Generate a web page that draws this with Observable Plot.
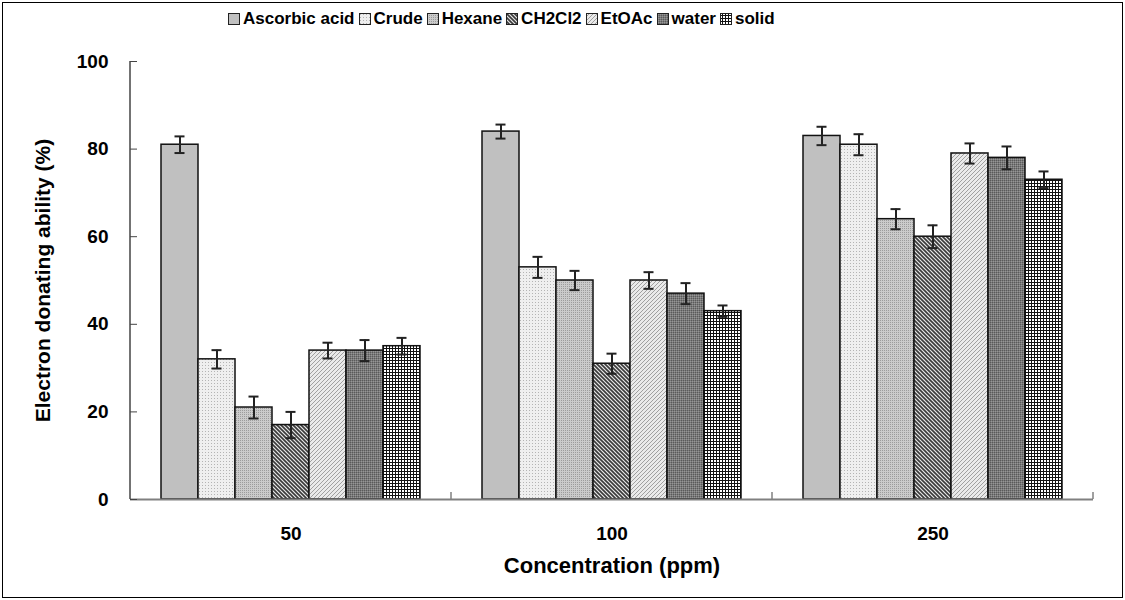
<!DOCTYPE html>
<html><head><meta charset="utf-8">
<script src="https://cdn.jsdelivr.net/npm/d3@7"></script>
<script src="https://cdn.jsdelivr.net/npm/@observablehq/plot@0.6"></script>
<style>
body{margin:0;background:#fff;}
#wrap{position:relative;width:1125px;height:600px;font-family:"Liberation Sans",Arial,sans-serif;font-weight:bold;color:#000;}
#frame{position:absolute;left:2px;top:2px;width:1119px;height:594px;border:1px solid #000;}
#legend{position:absolute;left:228px;top:9px;display:flex;align-items:center;font-size:17px;line-height:20px;white-space:nowrap;}
.item{display:flex;align-items:center;margin-right:4px;}
.item svg{margin-right:3px;display:block;}
#chart{position:absolute;left:0;top:40px;}
#chart g[aria-label="fx-axis label"]{font-size:22px;}
#chart g[aria-label="y-axis label"]{font-size:21px;}
</style></head><body>
<svg width="0" height="0" style="position:absolute">
<defs>
<pattern id="pAsc" patternUnits="userSpaceOnUse" width="4" height="4"><rect width="4" height="4" fill="#c0c0c0"/></pattern>
<pattern id="pCrude" patternUnits="userSpaceOnUse" width="3" height="3"><rect width="3" height="3" fill="#efefef"/><rect x="1" y="1" width="1" height="1" fill="#b4b4b4"/></pattern>
<pattern id="pHex" patternUnits="userSpaceOnUse" width="2" height="2"><rect width="2" height="2" fill="#cbcbcb"/><rect width="1" height="1" fill="#9c9c9c"/></pattern>
<pattern id="pCH" patternUnits="userSpaceOnUse" width="4" height="4"><rect width="4" height="4" fill="#e6e6e6"/><path d="M0,0L4,4M-1,3L1,5M3,-1L5,1" stroke="#3a3a3a" stroke-width="1.6"/></pattern>
<pattern id="pEt" patternUnits="userSpaceOnUse" width="4" height="4"><rect width="4" height="4" fill="#eaeaea"/><path d="M0,4L4,0M-1,1L1,-1M3,5L5,3" stroke="#a0a0a0" stroke-width="1"/></pattern>
<pattern id="pWater" patternUnits="userSpaceOnUse" width="2" height="2"><rect width="2" height="2" fill="#7a7a7a"/><rect width="1" height="1" fill="#5a5a5a"/><rect x="1" y="1" width="1" height="1" fill="#969696"/></pattern>
<pattern id="pSolid" patternUnits="userSpaceOnUse" width="3" height="3"><rect width="3" height="3" fill="#111"/><rect width="2" height="2" fill="#fff"/></pattern>
</defs></svg>
<div id="wrap"><div id="frame"></div><div id="legend"></div><div id="chart"></div></div>
<script>
const series = ["Ascorbic acid", "Crude", "Hexane", "CH2Cl2", "EtOAc", "water", "solid"];
const concentrations = ["50", "100", "250"];
const values50  = [81, 32, 21, 17, 34, 34, 35];
const values100 = [84, 53, 50, 31, 50, 47, 43];
const values250 = [83, 81, 64, 60, 79, 78, 73];
const errors50  = [1.9, 2.1, 2.5, 3.0, 1.8, 2.4, 1.9];
const errors100 = [1.6, 2.4, 2.2, 2.3, 1.9, 2.4, 1.3];
const errors250 = [2.1, 2.4, 2.3, 2.6, 2.3, 2.6, 1.9];
const yTicks = [0, 20, 40, 60, 80, 100];
const patternIds = ["pAsc", "pCrude", "pHex", "pCH", "pEt", "pWater", "pSolid"];

const valueSets = [values50, values100, values250];
const errorSets = [errors50, errors100, errors250];
const table = [];
concentrations.forEach((c, gi) => series.forEach((s, si) => {
  table.push({conc: c, series: s, value: valueSets[gi][si], err: errorSets[gi][si]});
}));

// legend
const legend = document.getElementById("legend");
series.forEach((s, i) => {
  const item = document.createElement("div");
  item.className = "item";
  item.innerHTML = `<svg width="12" height="12"><rect x="0.5" y="0.5" width="11" height="11" fill="url(#${patternIds[i]})" stroke="#222" stroke-width="1"/></svg><span>${s}</span>`;
  legend.appendChild(item);
});

const font = '"Liberation Sans", Arial, sans-serif';
const chart = Plot.plot({
  width: 1125, height: 560,
  marginTop: 21, marginBottom: 101, marginLeft: 130, marginRight: 32,
  style: {fontFamily: font, fontWeight: "bold", background: "transparent", overflow: "visible", color: "#000"},
  fx: {domain: concentrations, padding: 0},
  x: {domain: series, paddingInner: 0, paddingOuter: 0.724, axis: null},
  y: {domain: [0, 100]},
  color: {domain: series, range: patternIds.map(id => `url(#${id})`)},
  marks: [
    Plot.barY(table, {fx: "conc", x: "series", y: "value", fill: "series", stroke: "#111", strokeWidth: 1.5}),
    Plot.ruleX(table, {fx: "conc", x: "series", y1: d => d.value - d.err, y2: d => d.value + d.err, stroke: "#222", strokeWidth: 2}),
    Plot.tickY(table, {fx: "conc", x: "series", y: d => d.value + d.err, insetLeft: 13.5, insetRight: 13.5, stroke: "#222", strokeWidth: 2}),
    Plot.tickY(table, {fx: "conc", x: "series", y: d => d.value - d.err, insetLeft: 13.5, insetRight: 13.5, stroke: "#222", strokeWidth: 2}),
    Plot.ruleY([0], {stroke: "#808080", strokeWidth: 2}),
    Plot.axisY({ticks: yTicks, tickSize: -7, tickPadding: 29, fontSize: 19, stroke: "#444",
      label: "Electron donating ability (%)", labelAnchor: "center", labelOffset: 95, labelArrow: "none"}),
    Plot.axisFx({anchor: "bottom", tickSize: 0, tickPadding: 27, fontSize: 19,
      label: "Concentration (ppm)", labelAnchor: "center", labelOffset: 73, labelArrow: "none"})
  ]
});
document.getElementById("chart").appendChild(chart);

// axis line and group boundary ticks from the library's scales
const svg = chart.tagName.toLowerCase() === "svg" ? chart : chart.querySelector("svg");
const fxS = chart.scale("fx"), yS = chart.scale("y");
const ns = "http://www.w3.org/2000/svg";
const y0 = yS.apply(0), y100 = yS.apply(100);
const x0 = fxS.apply(concentrations[0]);
function line(x1, y1, x2, y2, stroke, w) {
  const l = document.createElementNS(ns, "line");
  l.setAttribute("x1", x1); l.setAttribute("y1", y1); l.setAttribute("x2", x2); l.setAttribute("y2", y2);
  l.setAttribute("stroke", stroke); l.setAttribute("stroke-width", w);
  svg.appendChild(l);
}
line(x0, y0, x0, y100, "#444", 1.5);
concentrations.forEach(c => {
  const xb = fxS.apply(c) + fxS.bandwidth;
  line(xb, y0, xb, y0 - 7, "#808080", 1.5);
});
</script>
</body></html>
